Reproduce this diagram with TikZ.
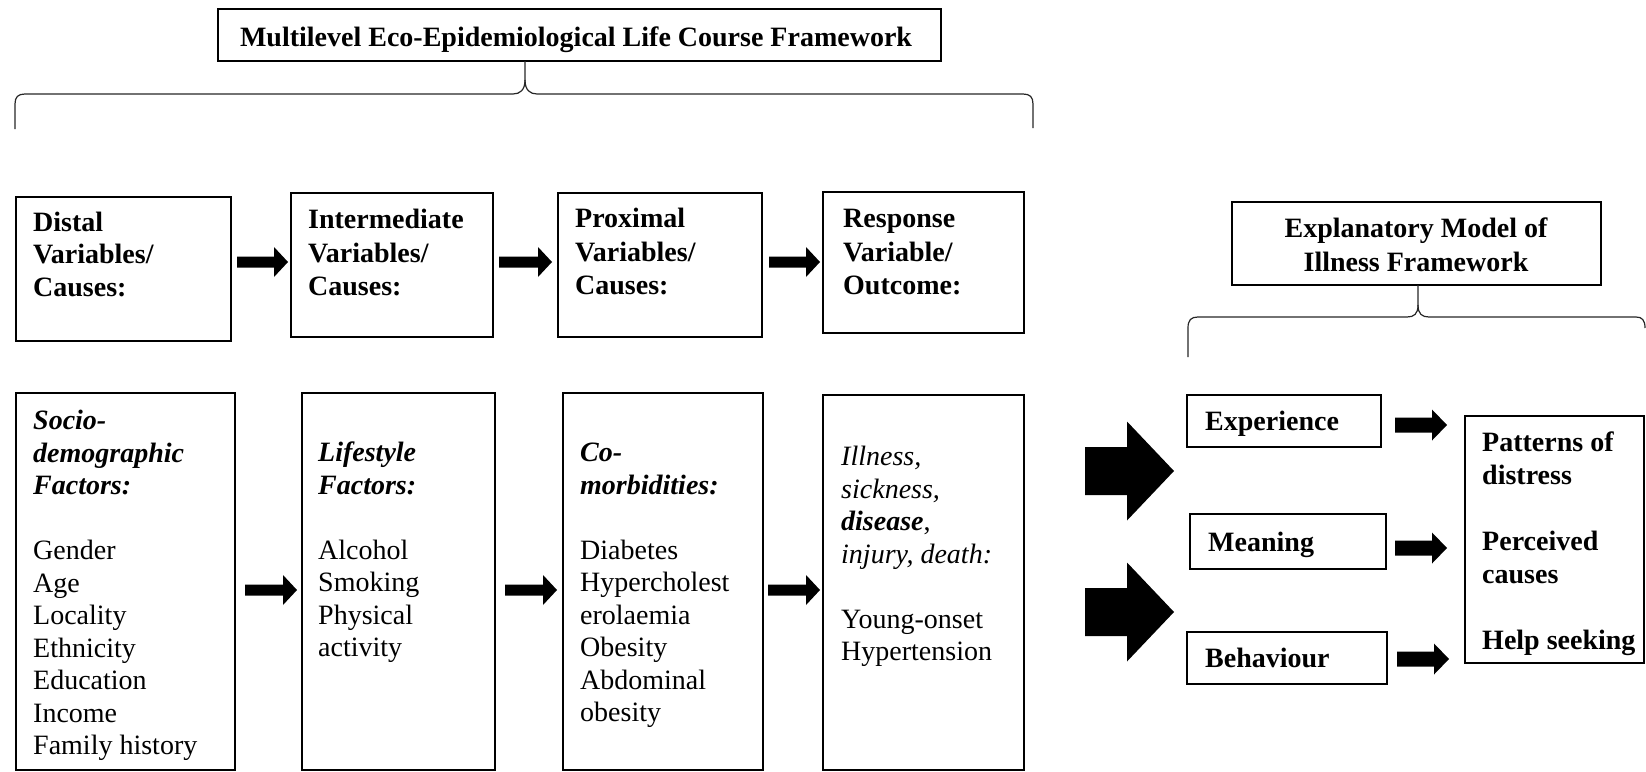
\documentclass[tikz,border=0pt]{standalone}
\usepackage{fontspec}
\setmainfont{Liberation Serif}
\usetikzlibrary{calc}
\tikzset{
  box/.style={draw=black, line width=1.2pt, anchor=north west, inner sep=0pt, outer sep=0pt},
  txt/.style={anchor=north west, inner sep=0pt, align=left, font=\fontsize{28}{32.5}\selectfont},
  htxt/.style={anchor=north west, inner sep=0pt, align=left, font=\fontsize{28}{33.5}\selectfont\bfseries},
  btxt/.style={anchor=base west, inner sep=0pt, font=\fontsize{28}{33}\selectfont\bfseries},
  ctxt/.style={anchor=base, inner sep=0pt, font=\fontsize{28}{33}\selectfont\bfseries},
  bracestyle/.style={draw=black!85, line width=1.2pt},
}
\newcommand\blkarrow[5]{\fill[black] ($(#1)+(0,#3)$) -- ($(#2)+(-#5,#3)$) -- ($(#2)+(-#5,#4)$) -- (#2) -- ($(#2)+(-#5,-#4)$) -- ($(#2)+(-#5,-#3)$) -- ($(#1)+(0,-#3)$) -- cycle;}
\begin{document}
\begin{tikzpicture}[x=1pt,y=-1pt]
\useasboundingbox (0,0) rectangle (1646,771);

% ---- left framework title and brace
\node[box, minimum width=723pt, minimum height=52pt] (title) at (218,9) {};
\node[ctxt] (titleT) at (576,46) {Multilevel Eco-Epidemiological Life Course Framework};
\coordinate (b1tip) at ($(title.south west)+(307,0)$);
\draw[bracestyle] (b1tip) -- (525,80) .. controls (525,90) and (520,94) .. (513,94) -- (25,94)
   .. controls (18,94) and (15,97) .. (15,104) -- (15,129);
\draw[bracestyle] (525,80) .. controls (525,90) and (530,94) .. (537,94) -- (1023,94)
   .. controls (1030,94) and (1033,97) .. (1033,104) -- (1033,128);

% ---- row 1 boxes
\node[box, minimum width=215pt, minimum height=144pt] (distal) at (16,197) {};
\node[txt, font=\fontsize{28}{32.5}\selectfont\bfseries] (distalT) at (33,208.25) {\strut Distal\\Variables/\\Causes:};
\node[box, minimum width=202pt, minimum height=144pt] (inter) at (291,193) {};
\node[htxt] (interT) at (308,205.05) {\strut Intermediate\\Variables/\\Causes:};
\node[box, minimum width=204pt, minimum height=144pt] (prox) at (558,193) {};
\node[htxt] (proxT) at (575,204.05) {\strut Proximal\\Variables/\\Causes:};
\node[box, minimum width=201pt, minimum height=141pt] (resp) at (823,192) {};
\node[htxt] (respT) at (843,204.05) {\strut Response\\Variable/\\Outcome:};

% ---- row 2 boxes
\node[box, minimum width=219pt, minimum height=377pt] (socio) at (16,393) {};
\node[txt] (socioT) at (33,406.75) {\strut\textbf{\textit{Socio-}}\\\textbf{\textit{demographic}}\\\textbf{\textit{Factors:}}\\[32.5pt]Gender\\Age\\Locality\\Ethnicity\\Education\\Income\\Family history};
\node[box, minimum width=193pt, minimum height=377pt] (life) at (302,393) {};
\node[txt] (lifeT) at (318,438.75) {\strut\textbf{\textit{Lifestyle}}\\\textbf{\textit{Factors:}}\\[32.5pt]Alcohol\\Smoking\\Physical\\activity};
\node[box, minimum width=200pt, minimum height=377pt] (comorb) at (563,393) {};
\node[txt] (comorbT) at (580,438.75) {\strut\textbf{\textit{Co-}}\\\textbf{\textit{morbidities:}}\\[32.5pt]Diabetes\\Hypercholest\\erolaemia\\Obesity\\Abdominal\\obesity};
\node[box, minimum width=201pt, minimum height=375pt] (ill) at (823,395) {};
\node[txt] (illT) at (841,442.75) {\strut\textit{Illness,}\\\textit{sickness,}\\\textbf{\textit{disease}},\\\textit{injury, death:}\\[32.5pt]Young-onset\\Hypertension};

% ---- row arrows
\coordinate (r1) at (0,262);
\coordinate (r2) at (0,590);
\blkarrow{$(distal.east |- r1)+(6,0)$}{$(inter.west |- r1)+(-3,0)$}{5.5}{15}{14}
\blkarrow{$(inter.east |- r1)+(6,0)$}{$(prox.west |- r1)+(-6,0)$}{5.5}{15}{14}
\blkarrow{$(prox.east |- r1)+(7,0)$}{$(resp.west |- r1)+(-3,0)$}{5.5}{15}{14}
\blkarrow{$(socio.east |- r2)+(10,0)$}{$(life.west |- r2)+(-5,0)$}{5.5}{15}{14}
\blkarrow{$(life.east |- r2)+(10,0)$}{$(comorb.west |- r2)+(-6,0)$}{5.5}{15}{14}
\blkarrow{$(comorb.east |- r2)+(5,0)$}{$(ill.west |- r2)+(-3,0)$}{5.5}{15}{14}

% ---- right framework
\node[box, minimum width=369pt, minimum height=83pt] (expl) at (1232,202) {};
\node[anchor=north, inner sep=0pt, align=center, font=\fontsize{28}{34}\selectfont\bfseries] (explT) at (1416,213.2) {\strut Explanatory Model of\\Illness Framework};
\coordinate (b2tip) at ($(expl.south west)+(186,0)$);
\draw[bracestyle] (b2tip) -- (1418,305) .. controls (1418,314) and (1414,317) .. (1407,317) -- (1198,317)
   .. controls (1191,317) and (1188,320) .. (1188,328) -- (1188,357);
\draw[bracestyle] (1418,305) .. controls (1418,314) and (1422,317) .. (1429,317) -- (1636,317)
   .. controls (1642,317) and (1645,320) .. (1645,328);

\node[box, minimum width=194pt, minimum height=52pt] (exper) at (1187,395) {};
\node[btxt] (experT) at (1205,430) {Experience};
\node[box, minimum width=196pt, minimum height=55pt] (mean) at (1190,514) {};
\node[btxt] (meanT) at (1208,551) {Meaning};
\node[box, minimum width=200pt, minimum height=52pt] (behav) at (1187,632) {};
\node[btxt] (behavT) at (1205,667) {Behaviour};
\node[box, minimum width=179pt, minimum height=247pt] (outc) at (1465,416) {};
\node[txt, font=\fontsize{28}{33}\selectfont\bfseries] (outcT) at (1482,427.9) {\strut Patterns of\\distress\\[33pt]Perceived\\causes\\[33pt]Help seeking};

\coordinate (c1) at (0,425);
\coordinate (c2) at (0,548);
\coordinate (c3) at (0,659);
\blkarrow{$(exper.east |- c1)+(14,0)$}{$(outc.west |- c1)+(-18,0)$}{7.5}{15.5}{15}
\blkarrow{$(mean.east |- c2)+(9,0)$}{$(outc.west |- c2)+(-18,0)$}{7.5}{15.5}{15}
\blkarrow{$(behav.east |- c3)+(10,0)$}{$(outc.west |- c3)+(-16,0)$}{7.5}{15.5}{15}

% ---- big arrows
\coordinate (d1) at (0,471);
\coordinate (d2) at (0,612);
\blkarrow{$(ill.east |- d1)+(61,0)$}{$(exper.west |- d1)+(-13,0)$}{24}{49.5}{47}
\blkarrow{$(ill.east |- d2)+(61,0)$}{$(behav.west |- d2)+(-13,0)$}{24}{49.5}{47}
\end{tikzpicture}
\end{document}
